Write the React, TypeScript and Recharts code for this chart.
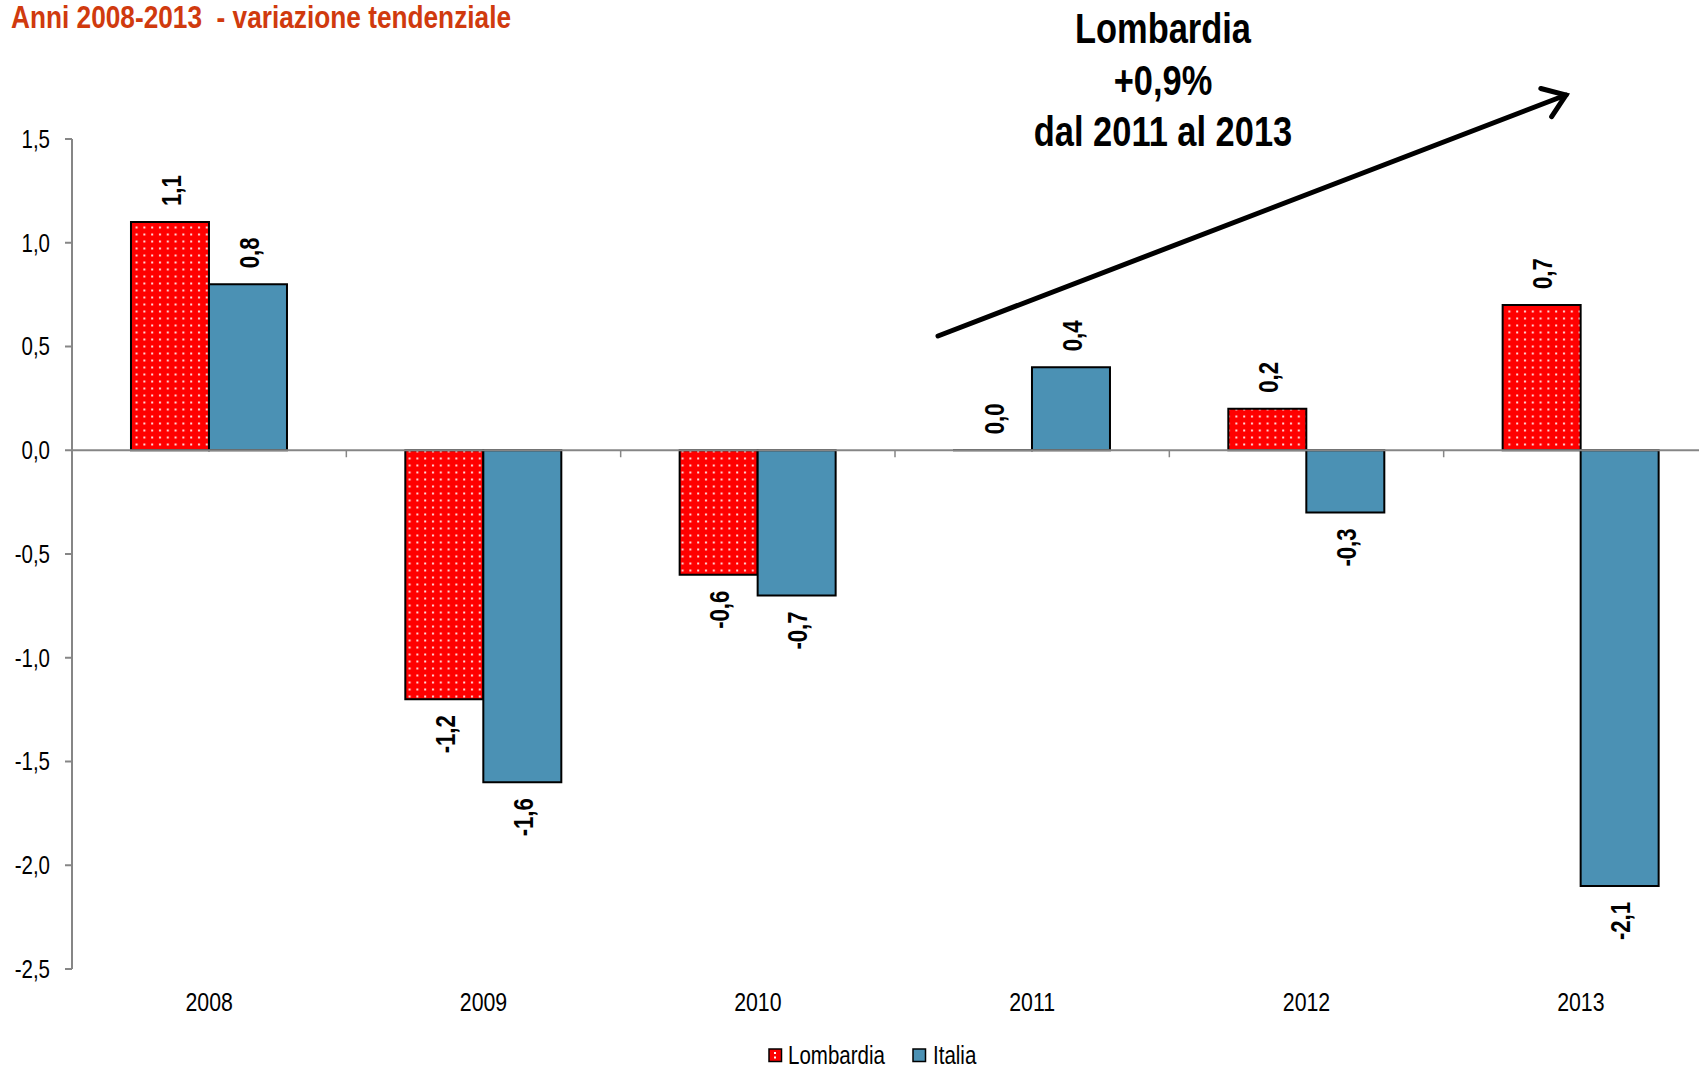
import { BarChart, Bar, XAxis, YAxis, ReferenceLine, Legend, LabelList } from 'recharts';

const years = ['2008', '2009', '2010', '2011', '2012', '2013'];
const lombardia = [1.1, -1.2, -0.6, 0.0, 0.2, 0.7];
const italia = [0.8, -1.6, -0.7, 0.4, -0.3, -2.1];
const yTicks = [-2.5, -2, -1.5, -1, -0.5, 0, 0.5, 1, 1.5];

const data = years.map((year, i) => ({ year, lombardia: lombardia[i], italia: italia[i] }));

// no Arial Narrow here, so Liberation Sans squeezed horizontally
const FONT = "'Liberation Sans', Arial, sans-serif";
const SQUEEZE = 0.82;
const RED = '#ff0000';
const BLUE = '#4b91b4';
const GREY = '#868686';

const fmt = (v: number) => v.toFixed(1).replace('.', ',');

const NText = ({ x, y, rotate, anchor, dy, size, bold, fill, children }: any) => (
  <text
    transform={`translate(${x} ${y})${rotate ? ` rotate(${rotate})` : ''} scale(${SQUEEZE} 1)`}
    textAnchor={anchor}
    dy={dy}
    fontFamily={FONT}
    fontWeight={bold ? 'bold' : 'normal'}
    fontSize={size}
    fill={fill || '#000'}
    style={{ whiteSpace: 'pre' }}
  >
    {children}
  </text>
);

// rotated value label, above positive bars and below negative ones
const BarValueLabel = (props: any) => {
  const { x, y, width, height, value } = props;
  if (value == null) return null;
  const cx = Number(x) + Number(width) / 2;
  const top = Math.min(Number(y), Number(y) + Number(height));
  const bottom = Math.max(Number(y), Number(y) + Number(height));
  const pos = Number(value) >= 0;
  const ly = pos ? top - 16 : bottom + 16;
  return (
    <NText x={cx + 1} y={ly} rotate={-90} anchor={pos ? 'start' : 'end'} dy="0.36em" size={27} bold>
      {fmt(Number(value))}
    </NText>
  );
};

const XTick = (props: any) => (
  <NText x={props.x} y={props.y} anchor="middle" dy="0.71em" size={26}>
    {props.payload.value}
  </NText>
);

const YTick = (props: any) => (
  <NText x={props.x} y={props.y} anchor="end" dy="0.355em" size={25}>
    {fmt(Number(props.payload.value))}
  </NText>
);

// zero line with small category ticks hanging below it
const ZeroLine = (props: any) => {
  const { x1, x2, y1 } = props;
  const step = (x2 - x1) / years.length;
  return (
    <g>
      <line x1={x1} y1={y1} x2={x2} y2={y1} stroke={GREY} strokeWidth={2} />
      {years.slice(1).map((_, i) => (
        <line key={i} x1={x1 + step * (i + 1)} x2={x1 + step * (i + 1)} y1={y1} y2={y1 + 7} stroke={GREY} strokeWidth={1.5} />
      ))}
    </g>
  );
};

const legendText = {
  position: 'absolute' as const,
  top: 0,
  fontFamily: FONT,
  fontSize: 25,
  lineHeight: '24px',
  color: '#000',
  whiteSpace: 'nowrap' as const,
  transform: `scaleX(${SQUEEZE})`,
  transformOrigin: 'left top',
};

const LegendContent = () => (
  <div style={{ position: 'relative', width: 240, height: 24 }}>
    <svg width={15} height={15} style={{ position: 'absolute', left: 0, top: 4.5 }}>
      <rect x={1} y={1} width={12.5} height={12.5} fill={RED} stroke="#000" strokeWidth={1.5} />
      <rect x={6} y={4} width={2} height={2} fill="#fff" />
      <rect x={6} y={8.5} width={2} height={2} fill="#fff" />
    </svg>
    <span style={{ ...legendText, left: 20 }}>Lombardia</span>
    <svg width={15} height={15} style={{ position: 'absolute', left: 144, top: 4.5 }}>
      <rect x={1} y={1} width={12.5} height={12.5} fill={BLUE} stroke="#000" strokeWidth={1.5} />
    </svg>
    <span style={{ ...legendText, left: 165 }}>Italia</span>
  </div>
);

export default function App() {
  // arrow of the annotation
  const ax1 = 938, ay1 = 336, ax2 = 1566, ay2 = 95;
  const ang = Math.atan2(ay2 - ay1, ax2 - ax1);
  const head = (sign: number) => {
    const a = ang + Math.PI + sign * 0.62;
    return { x: ax2 + 26 * Math.cos(a), y: ay2 + 26 * Math.sin(a) };
  };
  const h1 = head(1);
  const h2 = head(-1);

  return (
    <div style={{ position: 'fixed', left: 0, top: 0, width: 1699, height: 1068, overflow: 'hidden', background: '#fff' }}>
      <BarChart
        width={1718}
        height={1068}
        data={data}
        margin={{ top: 139, right: 0, bottom: 59, left: 0 }}
        barCategoryGap="21.5%"
        barGap={0}
      >
        <defs>
          <pattern id="dots" width={7.8} height={7} patternUnits="userSpaceOnUse">
            <rect width={7.8} height={7} fill={RED} />
            <rect x={3} y={2.5} width={2} height={2} fill="#fff" opacity={0.85} />
          </pattern>
        </defs>
        <XAxis
          dataKey="year"
          axisLine={false}
          tickLine={false}
          tickSize={0}
          tickMargin={24}
          height={40}
          interval={0}
          tick={XTick}
        />
        <YAxis
          width={72}
          domain={[-2.5, 1.5]}
          ticks={yTicks}
          interval={0}
          allowDataOverflow
          axisLine={{ stroke: GREY, strokeWidth: 2 }}
          tickLine={{ stroke: GREY, strokeWidth: 2 }}
          tickSize={7}
          tickMargin={15}
          tick={YTick}
        />
        <Bar
          dataKey="lombardia"
          name="Lombardia"
          fill="url(#dots)"
          stroke="#000"
          strokeWidth={2}
          minPointSize={(v: any) => (Number(v) === 0 ? 0.01 : 0)}
          isAnimationActive={false}
        >
          <LabelList dataKey="lombardia" content={BarValueLabel} />
        </Bar>
        <Bar dataKey="italia" name="Italia" fill={BLUE} stroke="#000" strokeWidth={2} isAnimationActive={false}>
          <LabelList dataKey="italia" content={BarValueLabel} />
        </Bar>
        <ReferenceLine y={0} shape={ZeroLine} />
        <Legend
          layout="horizontal"
          verticalAlign="middle"
          align="center"
          wrapperStyle={{ position: 'absolute', left: 768, top: 1043, width: 240, height: 24, bottom: 'auto', right: 'auto' }}
          content={() => <LegendContent />}
        />
      </BarChart>

      <svg width={1699} height={1068} style={{ position: 'absolute', left: 0, top: 0, pointerEvents: 'none' }}>
        <NText x={11} y={28} anchor="start" size={32} bold fill="#d03a0e">
          {'Anni 2008-2013  - variazione tendenziale'}
        </NText>
        <NText x={1163} y={43} anchor="middle" size={42} bold>Lombardia</NText>
        <NText x={1163} y={95} anchor="middle" size={42} bold>+0,9%</NText>
        <NText x={1163} y={146} anchor="middle" size={42} bold>dal 2011 al 2013</NText>
        <line x1={ax1} y1={ay1} x2={ax2} y2={ay2} stroke="#000" strokeWidth={5} strokeLinecap="round" />
        <polyline
          points={`${h1.x},${h1.y} ${ax2},${ay2} ${h2.x},${h2.y}`}
          fill="none"
          stroke="#000"
          strokeWidth={5}
          strokeLinecap="round"
          strokeLinejoin="miter"
        />
      </svg>
    </div>
  );
}
